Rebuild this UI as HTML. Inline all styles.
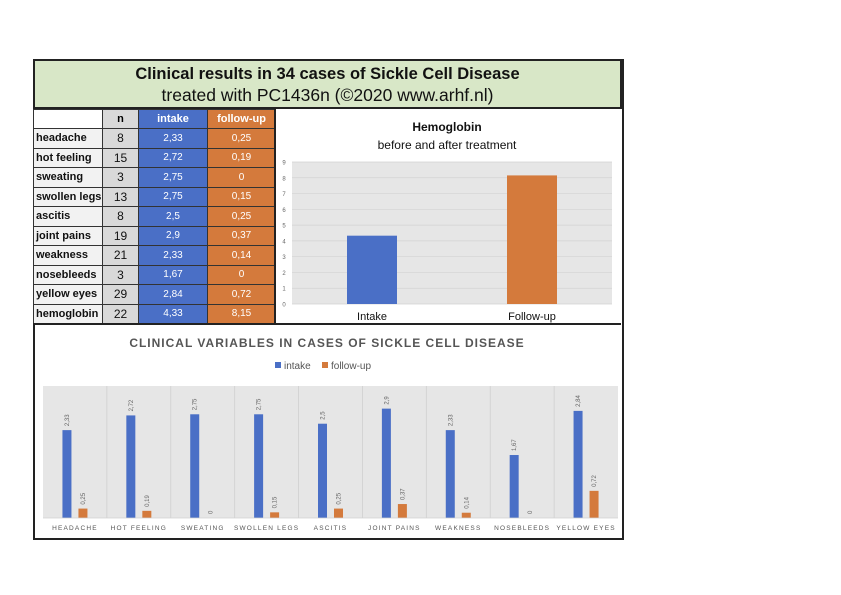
<!DOCTYPE html>
<html><head><meta charset="utf-8"><style>
body{margin:0;width:841px;height:595px;background:#fff;position:relative;overflow:hidden;font-family:"Liberation Sans",sans-serif}
#frame{position:absolute;left:33px;top:59px;width:587px;height:477px;border:2px solid #222}
#title{position:absolute;left:33px;top:59px;width:589px;height:50px;background:#d8e7c7;border:2px solid #222;box-sizing:border-box;text-align:center}
#title .t1{font-weight:bold;font-size:16.5px;margin-top:4px;color:#111}
#title .t2{font-size:17.5px;color:#111;margin-top:1px}
table{position:absolute;left:33px;top:109px;border-collapse:collapse;font-size:11px;table-layout:fixed;width:242px}
td{border:1px solid #333;height:19.5px;padding:0 2px;box-sizing:border-box;overflow:hidden;white-space:nowrap}
td.l{background:#f2f2f2;font-weight:bold;color:#111}
td.n{background:#d9d9d9;text-align:center;color:#111;font-size:12px}
td.i{background:#4a6fc6;color:#fff;text-align:center;font-size:10px}
td.f{background:#d47a3c;color:#fff;text-align:center;font-size:10px}
th{border:1px solid #333;height:19px;font-size:11px;box-sizing:border-box;padding:0}
svg{position:absolute;left:0;top:0}
</style></head><body>
<div id="frame"></div>
<div id="title"><div class="t1">Clinical results in 34 cases of Sickle Cell Disease</div><div class="t2">treated with PC1436n (©2020 www.arhf.nl)</div></div>
<table id="tbl">
<colgroup><col style="width:69px"><col style="width:36px"><col style="width:69px"><col style="width:68px"></colgroup>
<tr><th style="background:#fff"></th><th style="background:#d9d9d9">n</th><th style="background:#4a6fc6;color:#fff">intake</th><th style="background:#d47a3c;color:#fff">follow-up</th></tr>
</table>
<svg id="svg" width="841" height="595"></svg>
<script>
const rowNames=["headache","hot feeling","sweating","swollen legs","ascitis","joint pains","weakness","nosebleeds","yellow eyes","hemoglobin"];
const rowN=[8,15,3,13,8,19,21,3,29,22];
const rowIntake=["2,33","2,72","2,75","2,75","2,5","2,9","2,33","1,67","2,84","4,33"];
const rowFollow=["0,25","0,19","0","0,15","0,25","0,37","0,14","0","0,72","8,15"];
const hbCats=["Intake","Follow-up"];
const hbValues=[4.33,8.15];
const hbTicks=[0,1,2,3,4,5,6,7,8,9];
const cats=["HEADACHE","HOT FEELING","SWEATING","SWOLLEN LEGS","ASCITIS","JOINT PAINS","WEAKNESS","NOSEBLEEDS","YELLOW EYES"];
const intake=[2.33,2.72,2.75,2.75,2.5,2.9,2.33,1.67,2.84];
const follow=[0.25,0.19,0,0.15,0.25,0.37,0.14,0,0.72];
const tbl=document.getElementById('tbl');
rowNames.forEach((r,k)=>{const tr=document.createElement('tr');


tr.innerHTML=`<td class="l">${r}</td><td class="n">${rowN[k]}</td><td class="i">${rowIntake[k]}</td><td class="f">${rowFollow[k]}</td>`;tbl.appendChild(tr);});
const S=document.getElementById('svg');const ns="http://www.w3.org/2000/svg";
function el(t,a,txt){const e=document.createElementNS(ns,t);for(const k in a)e.setAttribute(k,a[k]);if(txt!==undefined)e.textContent=txt;S.appendChild(e);return e;}
const BLUE="#4a6fc6",ORANGE="#d47a3c";
el('line',{x1:275,y1:109,x2:275,y2:325,stroke:'#222','stroke-width':2});
el('line',{x1:33,y1:324,x2:621,y2:324,stroke:'#222','stroke-width':2});
let t=el('text',{x:447,y:131,'text-anchor':'middle','font-size':12,'font-weight':'bold',fill:'#111'},'Hemoglobin');


el('text',{x:447,y:149,'text-anchor':'middle','font-size':12,fill:'#111'},'before and after treatment');
const hx0=292,hx1=612,hy0=304,hy1=162;
const hy=v=>hy0-(v/9)*(hy0-hy1);
el('rect',{x:hx0,y:hy1,width:hx1-hx0,height:hy0-hy1,fill:'#e6e6e6'});
hbTicks.forEach(v=>{el('line',{x1:hx0,y1:hy(v),x2:hx1,y2:hy(v),stroke:'#d2d2d2','stroke-width':0.7});
const tk=el('text',{x:284,y:hy(v)+2.5,'text-anchor':'middle','font-size':6,fill:'#666'},v);

});
const hbw=(hx1-hx0)/hbCats.length;
hbCats.forEach((c,k)=>{const cx=hx0+hbw*(k+0.5);
const b=el('rect',{x:cx-25,y:hy(hbValues[k]),width:50,height:hy0-hy(hbValues[k]),fill:k?ORANGE:BLUE});


el('text',{x:cx,y:320,'text-anchor':'middle','font-size':11,fill:'#111'},c);});
el('text',{x:327,y:347,'text-anchor':'middle','font-size':12,'font-weight':'bold',fill:'#555','letter-spacing':'1'},'CLINICAL VARIABLES IN CASES OF SICKLE CELL DISEASE');
el('rect',{x:275,y:362,width:6,height:6,fill:BLUE});
let lg=el('text',{x:284,y:369,'font-size':10,fill:'#555'},'intake');


el('rect',{x:322,y:362,width:6,height:6,fill:ORANGE});
lg=el('text',{x:331,y:369,'font-size':10,fill:'#555'},'follow-up');


const bx0=43,bx1=618,by0=518,by1=386,bmax=3.5;
const by=v=>by0-(v/bmax)*(by0-by1);
el('rect',{x:bx0,y:by1,width:bx1-bx0,height:by0-by1,fill:'#e6e6e6'});
const step=(bx1-bx0)/cats.length;
const fmt=v=>String(v).replace('.',',');
cats.forEach((c,k)=>{const cx=bx0+step*(k+0.5);
if(k>0)el('line',{x1:bx0+step*k,y1:by1,x2:bx0+step*k,y2:by0,stroke:'#d0d0d0','stroke-width':0.8});
const b1=el('rect',{x:cx-12.5,y:by(intake[k]),width:9,height:by0-by(intake[k]),fill:BLUE});


const b2=el('rect',{x:cx+3.5,y:by(follow[k]),width:9,height:by0-by(follow[k]),fill:ORANGE});


[[cx-8,intake[k]],[cx+8,follow[k]]].forEach(([x,v])=>{const yy=by(v)-4;
el('text',{x:x+2,y:yy,'font-size':6,fill:'#666',transform:`rotate(-90 ${x+2} ${yy})`},fmt(v));});
const cl=el('text',{x:cx,y:530,'text-anchor':'middle','font-size':6.5,fill:'#555','letter-spacing':'1.2'},c);

});
el('line',{x1:bx0,y1:by0,x2:bx1,y2:by0,stroke:'#d0d0d0','stroke-width':0.8});
</script>
</body></html>
